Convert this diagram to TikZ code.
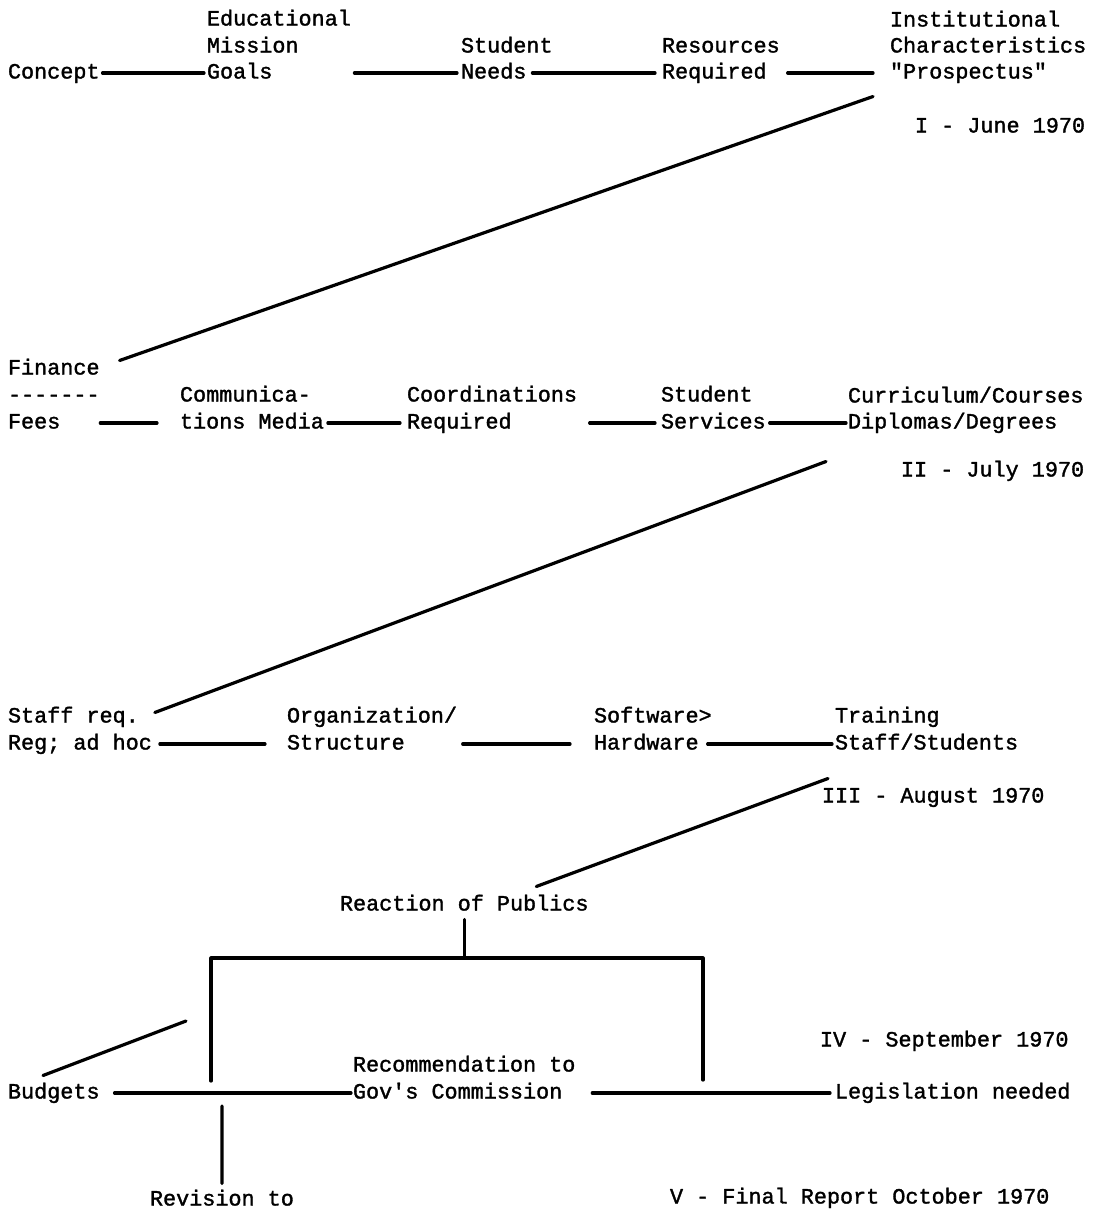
\documentclass[tikz,border=0pt]{standalone}
\usepackage{fontspec}
\setmainfont{Liberation Mono}[Ligatures=TeXOff,FakeBold=1.5]
\usetikzlibrary{calc}
\tikzstyle{every node}=[font=\fontsize{10.9}{13}\selectfont]
\tikzstyle{every path}=[line width=1.6pt,line cap=round,line join=round]
\tikzstyle{txt}=[anchor=west,inner sep=0pt,outer sep=0pt,text height=8pt,text depth=2.5pt]
\tikzstyle{conn}=[shorten <=1.5pt,shorten >=1.5pt]

\begin{document}
\begin{tikzpicture}[x=0.5pt,y=-0.5pt]
  \useasboundingbox (0,0) rectangle (1093,1212);
  \node[txt] (concept) at (8,73) {Concept};
  \node[txt] (educ) at (207,20) {Educational};
  \node[txt] (mission) at (207,47) {Mission};
  \node[txt] (goals) at (207,73) {Goals};
  \node[txt] (student) at (461,47) {Student};
  \node[txt] (needs) at (461,73) {Needs};
  \node[txt] (resources) at (662,47) {Resources};
  \node[txt] (required) at (662,73) {Required};
  \node[txt] (instit) at (890,21) {Institutional};
  \node[txt] (charact) at (890,47) {Characteristics};
  \node[txt] (prosp) at (890,73) {"Prospectus"};
  \node[txt] (june) at (915,127) {I - June 1970};
  \draw[conn] (concept) -- (goals);
  \draw[conn,shorten <=41pt,shorten >=2pt] (goals) -- (needs);
  \draw[conn,shorten <=3pt,shorten >=3.5pt] (needs) -- (required);
  \draw[conn,shorten <=10.5pt,shorten >=8.5pt] (required) -- (prosp);

  \node[txt] (finance) at (8,369) {Finance};
  \node[txt] (dashes) at (8,396) {-------};
  \node[txt] (fees) at (8,423) {Fees};
  \node[txt] (commun) at (180,396) {Communica-};
  \node[txt] (media) at (180,423) {tions Media};
  \node[txt] (coord) at (407,396) {Coordinations};
  \node[txt] (coordreq) at (407,423) {Required};
  \node[txt] (stud2) at (661,396) {Student};
  \node[txt] (services) at (661,423) {Services};
  \node[txt] (curric) at (848,397) {Curriculum/Courses};
  \node[txt] (diplomas) at (848,423) {Diplomas/Degrees};
  \node[txt] (july) at (901,471) {II - July 1970};
  \draw ([shift={(-17,13)}]prosp.south west) -- ([shift={(20,2)}]finance.north east);
  \draw[conn,shorten <=20pt,shorten >=11.5pt] (fees) -- (media);
  \draw[conn,shorten <=2pt,shorten >=3.5pt] (media) -- (coordreq);
  \draw[conn,shorten <=39pt,shorten >=3pt] (coordreq) -- (services);
  \draw[conn,shorten <=2pt,shorten >=1pt] (services) -- (diplomas);

  \node[txt] (staffreq) at (8,717) {Staff req.};
  \node[txt] (adhoc) at (8,744) {Reg; ad hoc};
  \node[txt] (organ) at (287,717) {Organization/};
  \node[txt] (struct) at (287,744) {Structure};
  \node[txt] (software) at (594,717) {Software>};
  \node[txt] (hardware) at (594,744) {Hardware};
  \node[txt] (training) at (835,717) {Training};
  \node[txt] (staffstud) at (835,744) {Staff/Students};
  \node[txt] (august) at (822,797) {III - August 1970};
  \draw ([shift={(-22,28)}]diplomas.south west) -- ([shift={(16,6)}]staffreq.north east);
  \draw[conn,shorten <=4pt,shorten >=11pt] (adhoc) -- (struct);
  \draw[conn,shorten <=29pt,shorten >=12pt] (struct) -- (hardware);
  \draw[conn,shorten <=4.5pt] (hardware) -- (staffstud);

  \node[txt] (react) at (340,905) {Reaction of Publics};
  \draw ([shift={(-7,24)}]staffstud.south west) -- ([shift={(72,-8)}]react.north);
  \coordinate (barL) at (211,958);
  \coordinate (barR) at (703,958);
  \coordinate (legL) at (211,1081);
  \coordinate (legR) at (703,1080);
  \draw[shorten <=2pt] (react.south) -- (react.south |- barL);
  \draw (legL) -- (barL) -- (barR) -- (legR);
  \node[txt] (sept) at (820,1041) {IV - September 1970};
  \node[txt] (recomm) at (353,1066) {Recommendation to};
  \node[txt] (govs) at (353,1093) {Gov's Commission};
  \node[txt] (budgets) at (8,1093) {Budgets};
  \node[txt] (legis) at (835,1093) {Legislation needed};
  \coordinate (budtip) at (186,1021);
  \draw ([shift={(35,-7)}]budgets.north west) -- (budtip);
  \draw[conn,shorten <=7.5pt,shorten >=1pt] (budgets) -- (govs);
  \draw[conn,shorten <=15pt,shorten >=2.5pt] (govs) -- (legis);
  \coordinate (revtop) at (222,1106);
  \node[txt] (revision) at (150,1200) {Revision to};
  \node[txt] (final) at (670,1198) {V - Final Report October 1970};
  \draw[shorten >=3pt] (revtop) -- (revision.north);
\end{tikzpicture}
\end{document}
